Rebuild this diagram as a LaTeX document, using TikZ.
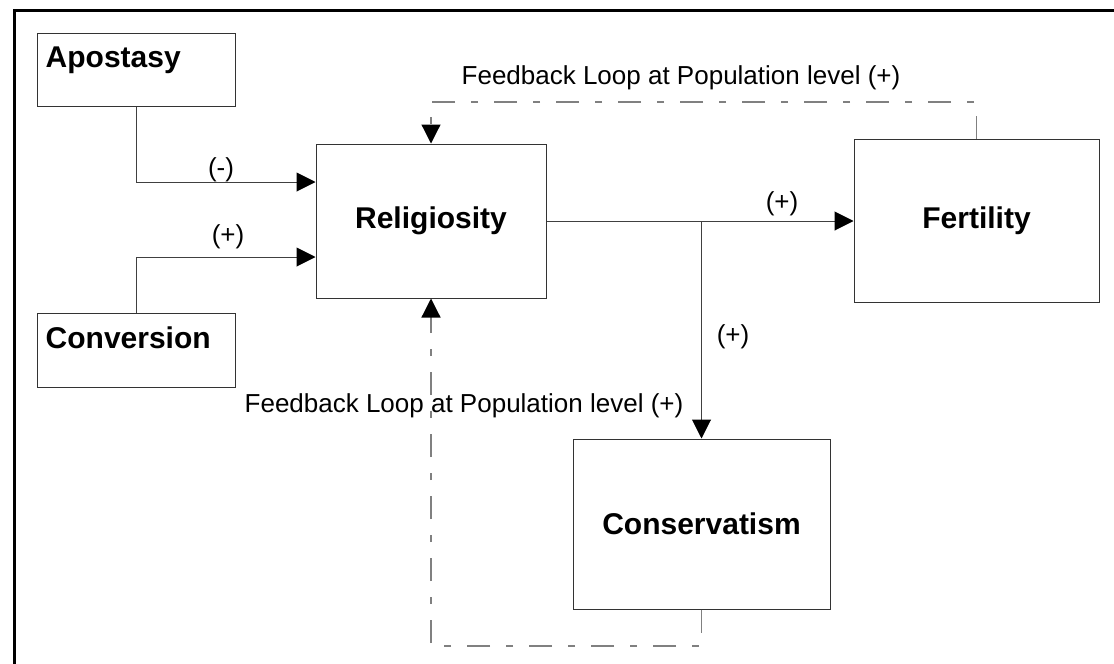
\documentclass[tikz,border=0pt]{standalone}
\usepackage{fontspec}
\setmainfont{Liberation Sans}
\usetikzlibrary{arrows.meta}

\begin{document}
\begin{tikzpicture}[
  x=1pt, y=-1pt,
  box/.style={rectangle, draw=black!80, line width=1pt, inner sep=0pt,
    font=\fontsize{30}{36}\selectfont\bfseries, align=center},
  corner/.style={anchor=north west, inner xsep=9pt, inner ysep=14pt,
    font=\fontsize{30}{36}\selectfont\bfseries},
  link/.style={draw=black!75, line width=1pt,
    -{Triangle[length=19pt, width=19pt, color=black]}},
  fb/.style={draw=gray, line width=1.2pt,
    dash pattern=on 23pt off 16pt on 7pt off 16pt,
    -{Triangle[length=19pt, width=19pt, color=black]}},
  sign/.style={font=\fontsize{26}{31}\selectfont, inner sep=0pt},
  frame/.style={line width=3pt, line join=miter},
]
\useasboundingbox (0,0) rectangle (1114,664);

% Outer frame
\draw[frame] (1114,10) -- (14,10) -- (14,664);

% Boxes
\node[box, minimum width=198pt, minimum height=73pt,
  label={[corner]north west:Apostasy}] (apo) at (136,69.5) {};
\node[box, minimum width=198pt, minimum height=74pt,
  label={[corner]north west:Conversion}] (conv) at (136,350) {};
\node[box, minimum width=230pt, minimum height=154pt] (rel) at (431,221) {Religiosity};
\node[box, minimum width=245pt, minimum height=163pt] (fer) at (976.5,220.5) {Fertility};
\node[box, minimum width=257pt, minimum height=170pt] (cons) at (701.5,524) {Conservatism};

% Helper points
\coordinate (jn) at (rel.east -| cons.north);
\coordinate (topy) at (0,102);
\coordinate (boty) at (0,646);

% Causal links
\draw[link] (apo.south) |- ([yshift=39pt]rel.west);
\draw[link] (conv.north) |- ([yshift=-36pt]rel.west);
\draw[link] (rel.east) -- (rel.east -| fer.west);
\draw[link] (jn) -- (cons.north);

% Feedback loops
\draw[fb] (fer.north) |- (topy -| rel.north) -- (rel.north);
\draw[fb] (cons.south) |- (boty -| rel.south) -- (rel.south);

% Signs
\node[sign] (sapo) at (221,170) {(-)};
\node[sign] (sconv) at (228,237) {(+)};
\node[sign] (sfer) at (782,204) {(+)};
\node[sign] (scons) at (733,337) {(+)};
\node[sign] (fbtop) at (681,78) {Feedback Loop at Population level (+)};
\node[sign] (fbbot) at (464,406) {Feedback Loop at Population level (+)};

\end{tikzpicture}
\end{document}
